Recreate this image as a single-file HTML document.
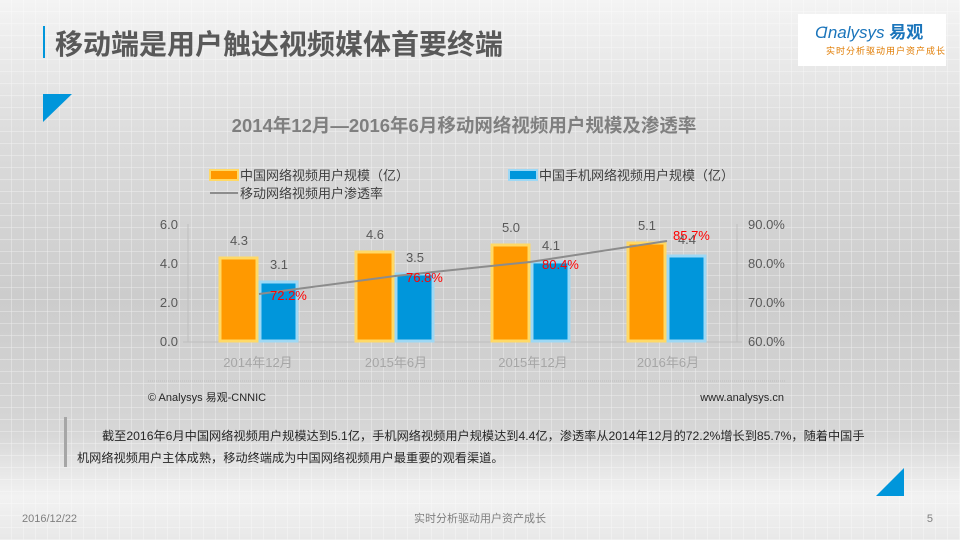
<!DOCTYPE html>
<html><head><meta charset="utf-8"><style>
body{margin:0;width:960px;height:540px;overflow:hidden;font-family:"Liberation Sans","Noto Sans CJK SC",sans-serif;}
</style></head><body>
<svg width="960" height="540" xmlns="http://www.w3.org/2000/svg" font-family="Liberation Sans, Noto Sans CJK SC, sans-serif">
<defs>
<linearGradient id="bg" x1="0" y1="0" x2="0" y2="1">
<stop offset="0" stop-color="#f4f4f4"/><stop offset="0.25" stop-color="#dcdcdc"/><stop offset="0.55" stop-color="#cccccc"/><stop offset="0.8" stop-color="#d6d6d6"/><stop offset="0.92" stop-color="#f2f2f2"/><stop offset="1" stop-color="#e8e8e8"/>
</linearGradient>
<pattern id="grid" width="12" height="12" patternUnits="userSpaceOnUse">
<path d="M12 0V12M0 12H12" stroke="#ffffff" stroke-opacity="0.6" stroke-width="1" fill="none"/>
</pattern>
</defs>
<rect width="960" height="540" fill="url(#bg)"/>
<rect width="960" height="540" fill="url(#grid)"/>
<!-- header -->
<rect x="43" y="26" width="2" height="32" fill="#0096DB"/>
<text x="55" y="54" font-size="28" font-weight="bold" fill="#595959">移动端是用户触达视频媒体首要终端</text>
<rect x="798" y="14" width="148" height="52" fill="#ffffff"/>
<text x="815" y="38" font-size="17" fill="#1b75bb" font-style="italic">Ɑnalysys <tspan font-weight="bold" font-style="normal" fill="#1b75bb">易观</tspan></text>
<text x="826" y="54" font-size="9" fill="#e07b00" letter-spacing="1">实时分析驱动用户资产成长</text>
<polygon points="43,94 72,94 43,122" fill="#0096DB"/>
<text x="464" y="132" font-size="18.5" font-weight="bold" fill="#7f7f7f" text-anchor="middle">2014年12月—2016年6月移动网络视频用户规模及渗透率</text>
<!-- legend -->
<rect x="210" y="170" width="28" height="10" fill="#FF9900" stroke="#FFD966" stroke-width="2"/>
<text x="240" y="180" font-size="13" fill="#404040">中国网络视频用户规模（亿）</text>
<rect x="509" y="170" width="28" height="10" fill="#0096DB" stroke="#9DD8F5" stroke-width="2"/>
<text x="539" y="180" font-size="13" fill="#404040">中国手机网络视频用户规模（亿）</text>
<line x1="210" y1="193" x2="238" y2="193" stroke="#8c8c8c" stroke-width="2"/>
<text x="240" y="198" font-size="13" fill="#404040">移动网络视频用户渗透率</text>
<!-- axes -->
<line x1="188" y1="224" x2="188" y2="342" stroke="#bfbfbf"/>
<line x1="737" y1="224" x2="737" y2="342" stroke="#bfbfbf"/>
<line x1="183" y1="342" x2="742" y2="342" stroke="#bfbfbf"/>
<g font-size="13" fill="#595959" text-anchor="end">
<text x="178" y="229">6.0</text><text x="178" y="268">4.0</text><text x="178" y="307">2.0</text><text x="178" y="346">0.0</text>
</g>
<g font-size="13" fill="#595959">
<text x="748" y="229">90.0%</text><text x="748" y="268">80.0%</text><text x="748" y="307">70.0%</text><text x="748" y="346">60.0%</text>
</g>
<!-- bars -->
<g stroke-width="3">
<rect x="220" y="258" width="37" height="83" fill="#FF9900" stroke="#FFD966"/>
<rect x="260" y="282" width="37" height="59" fill="#0096DB" stroke="#9DD8F5"/>
<rect x="356" y="252" width="37" height="89" fill="#FF9900" stroke="#FFD966"/>
<rect x="396" y="274" width="37" height="67" fill="#0096DB" stroke="#9DD8F5"/>
<rect x="492" y="245" width="37" height="96" fill="#FF9900" stroke="#FFD966"/>
<rect x="532" y="262" width="37" height="79" fill="#0096DB" stroke="#9DD8F5"/>
<rect x="628" y="243" width="37" height="98" fill="#FF9900" stroke="#FFD966"/>
<rect x="668" y="256" width="37" height="85" fill="#0096DB" stroke="#9DD8F5"/>
</g>
<g font-size="13" fill="#595959" text-anchor="middle">
<text x="239" y="245">4.3</text><text x="279" y="269">3.1</text>
<text x="375" y="239">4.6</text><text x="415" y="262">3.5</text>
<text x="511" y="232">5.0</text><text x="551" y="250">4.1</text>
<text x="647" y="230">5.1</text><text x="687" y="244">4.4</text>
</g>
<polyline points="259,294 395,276 530,262 667,241" fill="none" stroke="#8c8c8c" stroke-width="2"/>
<g font-size="13" fill="#ff0000">
<text x="270" y="300">72.2%</text><text x="406" y="282">76.8%</text><text x="542" y="269">80.4%</text><text x="673" y="240">85.7%</text>
</g>
<g font-size="13" fill="#a6a6a6" text-anchor="middle">
<text x="258" y="367">2014年12月</text><text x="396" y="367">2015年6月</text><text x="533" y="367">2015年12月</text><text x="668" y="367">2016年6月</text>
</g>
<line x1="148" y1="381" x2="785" y2="381" stroke="#bfbfbf" stroke-dasharray="1,1"/>
<text x="148" y="401" font-size="11" fill="#262626">© Analysys 易观-CNNIC</text>
<text x="784" y="401" font-size="11" fill="#262626" text-anchor="end">www.analysys.cn</text>
<!-- note -->
<rect x="64" y="417" width="3" height="50" fill="#a6a6a6"/>
<text x="102" y="440" font-size="12.2" fill="#262626">截至2016年6月中国网络视频用户规模达到5.1亿，手机网络视频用户规模达到4.4亿，渗透率从2014年12月的72.2%增长到85.7%，随着中国手</text>
<text x="77" y="462" font-size="12.2" fill="#262626">机网络视频用户主体成熟，移动终端成为中国网络视频用户最重要的观看渠道。</text>
<polygon points="904,468 904,496 876,496" fill="#0096DB"/>
<!-- footer -->
<text x="22" y="522" font-size="11" fill="#7f7f7f">2016/12/22</text>
<text x="480" y="522" font-size="11" fill="#7f7f7f" text-anchor="middle">实时分析驱动用户资产成长</text>
<text x="933" y="522" font-size="11" fill="#7f7f7f" text-anchor="end">5</text>
</svg>
</body></html>
